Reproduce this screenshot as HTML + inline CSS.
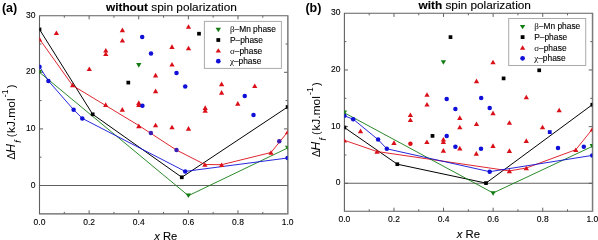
<!DOCTYPE html>
<html><head><meta charset="utf-8"><style>
html,body{margin:0;padding:0;background:#fff;width:598px;height:240px;overflow:hidden}
svg{display:block;will-change:transform}
text{font-family:"Liberation Sans",sans-serif;fill:#000}
.t{font-size:8.5px;stroke:#000;stroke-width:0.12px}
.lg{font-size:8.4px;stroke:#000;stroke-width:0.12px}
.ti{font-size:11.2px;stroke:#000;stroke-width:0.12px}
.pl{font-size:12.5px;font-weight:bold}
.xl{font-size:11px;stroke:#000;stroke-width:0.1px}
.yl{font-size:11px}
</style></head><body>
<svg width="598" height="240" viewBox="0 0 598 240">
<path d="M287.60 15.7H39.5V213.9H287.60" fill="none" stroke="#606060" stroke-width="1.1"/>
<line x1="287.85" y1="15.149999999999999" x2="287.85" y2="214.45000000000002" stroke="#7a7a7a" stroke-width="1.5"/>
<line x1="39.5" y1="185.5" x2="287.6" y2="185.5" stroke="#606060" stroke-width="1.1"/>
<line x1="64.31" y1="213.9" x2="64.31" y2="211.9" stroke="#606060" stroke-width="1"/>
<line x1="64.31" y1="15.7" x2="64.31" y2="17.7" stroke="#606060" stroke-width="1"/>
<line x1="89.12" y1="213.9" x2="89.12" y2="210.3" stroke="#606060" stroke-width="1"/>
<line x1="89.12" y1="15.7" x2="89.12" y2="19.3" stroke="#606060" stroke-width="1"/>
<line x1="113.93" y1="213.9" x2="113.93" y2="211.9" stroke="#606060" stroke-width="1"/>
<line x1="113.93" y1="15.7" x2="113.93" y2="17.7" stroke="#606060" stroke-width="1"/>
<line x1="138.74" y1="213.9" x2="138.74" y2="210.3" stroke="#606060" stroke-width="1"/>
<line x1="138.74" y1="15.7" x2="138.74" y2="19.3" stroke="#606060" stroke-width="1"/>
<line x1="163.55" y1="213.9" x2="163.55" y2="211.9" stroke="#606060" stroke-width="1"/>
<line x1="163.55" y1="15.7" x2="163.55" y2="17.7" stroke="#606060" stroke-width="1"/>
<line x1="188.36" y1="213.9" x2="188.36" y2="210.3" stroke="#606060" stroke-width="1"/>
<line x1="188.36" y1="15.7" x2="188.36" y2="19.3" stroke="#606060" stroke-width="1"/>
<line x1="213.17" y1="213.9" x2="213.17" y2="211.9" stroke="#606060" stroke-width="1"/>
<line x1="213.17" y1="15.7" x2="213.17" y2="17.7" stroke="#606060" stroke-width="1"/>
<line x1="237.98" y1="213.9" x2="237.98" y2="210.3" stroke="#606060" stroke-width="1"/>
<line x1="237.98" y1="15.7" x2="237.98" y2="19.3" stroke="#606060" stroke-width="1"/>
<line x1="262.79" y1="213.9" x2="262.79" y2="211.9" stroke="#606060" stroke-width="1"/>
<line x1="262.79" y1="15.7" x2="262.79" y2="17.7" stroke="#606060" stroke-width="1"/>
<line x1="39.5" y1="185.50" x2="43.1" y2="185.50" stroke="#606060" stroke-width="1"/>
<line x1="287.6" y1="185.50" x2="284.0" y2="185.50" stroke="#606060" stroke-width="1"/>
<line x1="39.5" y1="157.20" x2="41.5" y2="157.20" stroke="#606060" stroke-width="1"/>
<line x1="287.6" y1="157.20" x2="285.6" y2="157.20" stroke="#606060" stroke-width="1"/>
<line x1="39.5" y1="128.90" x2="43.1" y2="128.90" stroke="#606060" stroke-width="1"/>
<line x1="287.6" y1="128.90" x2="284.0" y2="128.90" stroke="#606060" stroke-width="1"/>
<line x1="39.5" y1="100.60" x2="41.5" y2="100.60" stroke="#606060" stroke-width="1"/>
<line x1="287.6" y1="100.60" x2="285.6" y2="100.60" stroke="#606060" stroke-width="1"/>
<line x1="39.5" y1="72.30" x2="43.1" y2="72.30" stroke="#606060" stroke-width="1"/>
<line x1="287.6" y1="72.30" x2="284.0" y2="72.30" stroke="#606060" stroke-width="1"/>
<line x1="39.5" y1="44.00" x2="41.5" y2="44.00" stroke="#606060" stroke-width="1"/>
<line x1="287.6" y1="44.00" x2="285.6" y2="44.00" stroke="#606060" stroke-width="1"/>
<text x="35.50" y="187.50" text-anchor="end" class="t">0</text>
<text x="35.50" y="130.90" text-anchor="end" class="t">10</text>
<text x="35.50" y="74.30" text-anchor="end" class="t">20</text>
<text x="35.50" y="17.70" text-anchor="end" class="t">30</text>
<text x="39.50" y="224.70" text-anchor="middle" class="t">0.0</text>
<text x="89.12" y="224.70" text-anchor="middle" class="t">0.2</text>
<text x="138.74" y="224.70" text-anchor="middle" class="t">0.4</text>
<text x="188.36" y="224.70" text-anchor="middle" class="t">0.6</text>
<text x="237.98" y="224.70" text-anchor="middle" class="t">0.8</text>
<text x="287.60" y="224.70" text-anchor="middle" class="t">1.0</text>
<clipPath id="cl"><rect x="39.5" y="15.7" width="248.10" height="198.20"/></clipPath>
<g clip-path="url(#cl)">
<polyline points="39.50,29.40 92.70,114.30 181.80,177.30 287.60,107.00" fill="none" stroke="#000" stroke-width="1.0" stroke-linejoin="miter"/>
<polyline points="39.50,39.10 72.60,85.50 138.80,125.50 176.50,150.10 204.90,164.50 221.60,164.70 271.00,152.50 287.60,132.00" fill="none" stroke="#da1019" stroke-width="0.9" stroke-linejoin="miter"/>
<polyline points="39.50,72.30 188.40,195.70 287.60,148.00" fill="none" stroke="#137d13" stroke-width="0.9" stroke-linejoin="miter"/>
<polyline points="39.50,66.70 48.40,80.90 73.60,109.70 82.30,118.40 185.20,171.40 287.60,158.00" fill="none" stroke="#1010d8" stroke-width="0.9" stroke-linejoin="miter"/>
<path d="M53.75 35.00L59.05 35.00L56.40 30.40Z" fill="#da1019"/>
<path d="M119.75 32.20L125.05 32.20L122.40 27.60Z" fill="#da1019"/>
<path d="M119.75 42.60L125.05 42.60L122.40 38.00Z" fill="#da1019"/>
<path d="M103.15 52.60L108.45 52.60L105.80 48.00Z" fill="#da1019"/>
<path d="M103.15 56.00L108.45 56.00L105.80 51.40Z" fill="#da1019"/>
<path d="M86.65 71.00L91.95 71.00L89.30 66.40Z" fill="#da1019"/>
<path d="M69.95 87.30L75.25 87.30L72.60 82.70Z" fill="#da1019"/>
<path d="M103.05 106.90L108.35 106.90L105.70 102.30Z" fill="#da1019"/>
<path d="M119.65 111.70L124.95 111.70L122.30 107.10Z" fill="#da1019"/>
<path d="M136.15 104.90L141.45 104.90L138.80 100.30Z" fill="#da1019"/>
<path d="M136.15 106.90L141.45 106.90L138.80 102.30Z" fill="#da1019"/>
<path d="M152.95 93.20L158.25 93.20L155.60 88.60Z" fill="#da1019"/>
<path d="M169.35 48.90L174.65 48.90L172.00 44.30Z" fill="#da1019"/>
<path d="M185.85 28.80L191.15 28.80L188.50 24.20Z" fill="#da1019"/>
<path d="M185.85 50.30L191.15 50.30L188.50 45.70Z" fill="#da1019"/>
<path d="M169.35 66.50L174.65 66.50L172.00 61.90Z" fill="#da1019"/>
<path d="M152.95 77.40L158.25 77.40L155.60 72.80Z" fill="#da1019"/>
<path d="M218.95 86.20L224.25 86.20L221.60 81.60Z" fill="#da1019"/>
<path d="M218.95 94.70L224.25 94.70L221.60 90.10Z" fill="#da1019"/>
<path d="M202.55 109.90L207.85 109.90L205.20 105.30Z" fill="#da1019"/>
<path d="M202.55 112.70L207.85 112.70L205.20 108.10Z" fill="#da1019"/>
<path d="M235.15 105.70L240.45 105.70L237.80 101.10Z" fill="#da1019"/>
<path d="M152.95 127.30L158.25 127.30L155.60 122.70Z" fill="#da1019"/>
<path d="M169.35 129.30L174.65 129.30L172.00 124.70Z" fill="#da1019"/>
<path d="M185.85 130.70L191.15 130.70L188.50 126.10Z" fill="#da1019"/>
<path d="M136.15 128.20L141.45 128.20L138.80 123.60Z" fill="#da1019"/>
<path d="M202.25 166.80L207.55 166.80L204.90 162.20Z" fill="#da1019"/>
<path d="M218.95 167.00L224.25 167.00L221.60 162.40Z" fill="#da1019"/>
<path d="M252.10 88.05L257.40 88.05L254.75 83.45Z" fill="#da1019"/>
<path d="M268.35 154.80L273.65 154.80L271.00 150.20Z" fill="#da1019"/>
<path d="M284.95 134.30L290.25 134.30L287.60 129.70Z" fill="#da1019"/>
<path d="M36.85 41.40L42.15 41.40L39.50 36.80Z" fill="#da1019"/>
<circle cx="39.50" cy="66.70" r="2.25" fill="#1010d8"/>
<circle cx="48.40" cy="80.90" r="2.25" fill="#1010d8"/>
<circle cx="73.60" cy="109.70" r="2.25" fill="#1010d8"/>
<circle cx="82.30" cy="118.40" r="2.25" fill="#1010d8"/>
<circle cx="142.20" cy="36.90" r="2.25" fill="#1010d8"/>
<circle cx="151.00" cy="53.40" r="2.25" fill="#1010d8"/>
<circle cx="176.50" cy="73.10" r="2.25" fill="#1010d8"/>
<circle cx="185.20" cy="86.50" r="2.25" fill="#1010d8"/>
<circle cx="142.40" cy="105.70" r="2.25" fill="#1010d8"/>
<circle cx="185.20" cy="171.40" r="2.25" fill="#1010d8"/>
<circle cx="244.75" cy="96.00" r="2.25" fill="#1010d8"/>
<circle cx="253.50" cy="115.00" r="2.25" fill="#1010d8"/>
<circle cx="287.60" cy="158.00" r="2.25" fill="#1010d8"/>
<rect x="37.65" y="27.55" width="3.7" height="3.7" fill="#000"/>
<rect x="90.85" y="112.45" width="3.7" height="3.7" fill="#000"/>
<rect x="126.45" y="80.75" width="3.7" height="3.7" fill="#000"/>
<rect x="197.15" y="31.85" width="3.7" height="3.7" fill="#000"/>
<rect x="179.95" y="175.45" width="3.7" height="3.7" fill="#000"/>
<rect x="285.75" y="105.15" width="3.7" height="3.7" fill="#000"/>
<path d="M36.85 70.00L42.15 70.00L39.50 74.60Z" fill="#137d13"/>
<path d="M136.15 63.10L141.45 63.10L138.80 67.70Z" fill="#137d13"/>
<path d="M185.75 193.40L191.05 193.40L188.40 198.00Z" fill="#137d13"/>
<path d="M284.95 145.70L290.25 145.70L287.60 150.30Z" fill="#137d13"/>
</g>
<circle cx="150.90" cy="132.90" r="2.25" fill="#3a1cb4"/>
<circle cx="176.50" cy="150.00" r="2.25" fill="#3a1cb4"/>
<circle cx="279.25" cy="141.25" r="2.25" fill="#3a1cb4"/>
<rect x="204.40" y="21.40" width="77.0" height="47.0" fill="#fff" stroke="#aaa" stroke-width="1"/>
<path d="M215.60 27.80L221.00 27.80L218.30 32.20Z" fill="#137d13"/>
<rect x="216.40" y="38.10" width="3.8" height="3.8" fill="#000"/>
<path d="M215.60 52.60L221.00 52.60L218.30 48.20Z" fill="#da1019"/>
<circle cx="218.30" cy="61.20" r="2.35" fill="#1010d8"/>
<text transform="translate(229.90,32.30) scale(1.0,1)" class="lg"><tspan font-family="Liberation Serif" font-size="9px" stroke-width="0">β</tspan>–Mn phase</text>
<text transform="translate(229.90,42.80) scale(1.0,1)" class="lg">P–phase</text>
<text transform="translate(229.90,54.00) scale(1.0,1)" class="lg"><tspan font-family="Liberation Serif" font-size="9px" stroke-width="0">σ</tspan>–phase</text>
<text transform="translate(229.90,64.20) scale(1.0,1)" class="lg"><tspan font-family="Liberation Serif" font-size="9px" stroke-width="0">χ</tspan>–phase</text>
<text x="1.9" y="12.3" class="pl">(a)</text>
<text transform="translate(105.95,10.80) scale(1.058,1)" class="ti"><tspan font-weight="bold">without</tspan> spin polarization</text>
<text transform="translate(154.20,239.50) scale(1.02,1)" class="xl"><tspan font-style="italic">x</tspan> Re</text>
<g transform="translate(15.1,159.2) rotate(-90)" class="yl"><text x="-0.2" y="0" font-size="10.5px">Δ</text><text x="6.4" y="0" font-style="italic" font-size="12px">H</text><text x="16.5" y="5.6" font-style="italic" font-size="9px">f</text><text transform="translate(22.0,0) scale(1.0,1)">(</text><text transform="translate(26.3,0) scale(1.085,1)">kJ.mol</text><text x="62.0" y="-7.4" font-size="8.6px">-1</text><text x="71.0" y="0">)</text></g>
<path d="M592.30 13.3H344.4V211.3H592.30" fill="none" stroke="#606060" stroke-width="1.1"/>
<line x1="592.55" y1="12.75" x2="592.55" y2="211.85000000000002" stroke="#7a7a7a" stroke-width="1.5"/>
<line x1="344.4" y1="183.3" x2="592.3" y2="183.3" stroke="#606060" stroke-width="1.1"/>
<line x1="369.19" y1="211.3" x2="369.19" y2="209.3" stroke="#606060" stroke-width="1"/>
<line x1="369.19" y1="13.3" x2="369.19" y2="15.3" stroke="#606060" stroke-width="1"/>
<line x1="393.98" y1="211.3" x2="393.98" y2="207.70000000000002" stroke="#606060" stroke-width="1"/>
<line x1="393.98" y1="13.3" x2="393.98" y2="16.900000000000002" stroke="#606060" stroke-width="1"/>
<line x1="418.77" y1="211.3" x2="418.77" y2="209.3" stroke="#606060" stroke-width="1"/>
<line x1="418.77" y1="13.3" x2="418.77" y2="15.3" stroke="#606060" stroke-width="1"/>
<line x1="443.56" y1="211.3" x2="443.56" y2="207.70000000000002" stroke="#606060" stroke-width="1"/>
<line x1="443.56" y1="13.3" x2="443.56" y2="16.900000000000002" stroke="#606060" stroke-width="1"/>
<line x1="468.35" y1="211.3" x2="468.35" y2="209.3" stroke="#606060" stroke-width="1"/>
<line x1="468.35" y1="13.3" x2="468.35" y2="15.3" stroke="#606060" stroke-width="1"/>
<line x1="493.14" y1="211.3" x2="493.14" y2="207.70000000000002" stroke="#606060" stroke-width="1"/>
<line x1="493.14" y1="13.3" x2="493.14" y2="16.900000000000002" stroke="#606060" stroke-width="1"/>
<line x1="517.93" y1="211.3" x2="517.93" y2="209.3" stroke="#606060" stroke-width="1"/>
<line x1="517.93" y1="13.3" x2="517.93" y2="15.3" stroke="#606060" stroke-width="1"/>
<line x1="542.72" y1="211.3" x2="542.72" y2="207.70000000000002" stroke="#606060" stroke-width="1"/>
<line x1="542.72" y1="13.3" x2="542.72" y2="16.900000000000002" stroke="#606060" stroke-width="1"/>
<line x1="567.51" y1="211.3" x2="567.51" y2="209.3" stroke="#606060" stroke-width="1"/>
<line x1="567.51" y1="13.3" x2="567.51" y2="15.3" stroke="#606060" stroke-width="1"/>
<line x1="344.4" y1="183.30" x2="348.0" y2="183.30" stroke="#606060" stroke-width="1"/>
<line x1="592.3" y1="183.30" x2="588.6999999999999" y2="183.30" stroke="#606060" stroke-width="1"/>
<line x1="344.4" y1="154.97" x2="346.4" y2="154.97" stroke="#606060" stroke-width="1"/>
<line x1="592.3" y1="154.97" x2="590.3" y2="154.97" stroke="#606060" stroke-width="1"/>
<line x1="344.4" y1="126.63" x2="348.0" y2="126.63" stroke="#606060" stroke-width="1"/>
<line x1="592.3" y1="126.63" x2="588.6999999999999" y2="126.63" stroke="#606060" stroke-width="1"/>
<line x1="344.4" y1="98.30" x2="346.4" y2="98.30" stroke="#606060" stroke-width="1"/>
<line x1="592.3" y1="98.30" x2="590.3" y2="98.30" stroke="#606060" stroke-width="1"/>
<line x1="344.4" y1="69.97" x2="348.0" y2="69.97" stroke="#606060" stroke-width="1"/>
<line x1="592.3" y1="69.97" x2="588.6999999999999" y2="69.97" stroke="#606060" stroke-width="1"/>
<line x1="344.4" y1="41.63" x2="346.4" y2="41.63" stroke="#606060" stroke-width="1"/>
<line x1="592.3" y1="41.63" x2="590.3" y2="41.63" stroke="#606060" stroke-width="1"/>
<text x="340.40" y="185.30" text-anchor="end" class="t">0</text>
<text x="340.40" y="128.63" text-anchor="end" class="t">10</text>
<text x="340.40" y="71.97" text-anchor="end" class="t">20</text>
<text x="340.40" y="15.30" text-anchor="end" class="t">30</text>
<text x="344.40" y="222.10" text-anchor="middle" class="t">0.0</text>
<text x="393.98" y="222.10" text-anchor="middle" class="t">0.2</text>
<text x="443.56" y="222.10" text-anchor="middle" class="t">0.4</text>
<text x="493.14" y="222.10" text-anchor="middle" class="t">0.6</text>
<text x="542.72" y="222.10" text-anchor="middle" class="t">0.8</text>
<text x="592.30" y="222.10" text-anchor="middle" class="t">1.0</text>
<clipPath id="cr"><rect x="344.4" y="13.3" width="247.90" height="198.00"/></clipPath>
<g clip-path="url(#cr)">
<polyline points="344.40,127.50 397.30,164.20 486.00,183.10 592.30,104.70" fill="none" stroke="#000" stroke-width="1.0" stroke-linejoin="miter"/>
<polyline points="344.40,140.30 377.00,151.50 509.40,170.90 526.30,168.00 575.80,149.70 592.30,129.20" fill="none" stroke="#da1019" stroke-width="0.9" stroke-linejoin="miter"/>
<polyline points="344.40,112.80 493.10,193.00 592.30,146.40" fill="none" stroke="#137d13" stroke-width="0.9" stroke-linejoin="miter"/>
<polyline points="344.40,115.80 353.20,119.20 378.10,139.60 386.80,148.80 489.70,171.70 592.30,155.40" fill="none" stroke="#1010d8" stroke-width="0.9" stroke-linejoin="miter"/>
<path d="M357.85 133.20L363.15 133.20L360.50 128.60Z" fill="#da1019"/>
<path d="M341.75 142.60L347.05 142.60L344.40 138.00Z" fill="#da1019"/>
<path d="M374.35 153.80L379.65 153.80L377.00 149.20Z" fill="#da1019"/>
<path d="M407.75 117.10L413.05 117.10L410.40 112.50Z" fill="#da1019"/>
<path d="M407.75 122.10L413.05 122.10L410.40 117.50Z" fill="#da1019"/>
<path d="M424.35 96.80L429.65 96.80L427.00 92.20Z" fill="#da1019"/>
<path d="M424.35 106.50L429.65 106.50L427.00 101.90Z" fill="#da1019"/>
<path d="M424.25 144.00L429.55 144.00L426.90 139.40Z" fill="#da1019"/>
<path d="M391.35 144.90L396.65 144.90L394.00 140.30Z" fill="#da1019"/>
<path d="M440.75 141.50L446.05 141.50L443.40 136.90Z" fill="#da1019"/>
<path d="M440.75 144.00L446.05 144.00L443.40 139.40Z" fill="#da1019"/>
<path d="M440.75 152.70L446.05 152.70L443.40 148.10Z" fill="#da1019"/>
<path d="M457.15 119.90L462.45 119.90L459.80 115.30Z" fill="#da1019"/>
<path d="M457.15 129.30L462.45 129.30L459.80 124.70Z" fill="#da1019"/>
<path d="M457.15 150.40L462.45 150.40L459.80 145.80Z" fill="#da1019"/>
<path d="M473.85 83.20L479.15 83.20L476.50 78.60Z" fill="#da1019"/>
<path d="M473.85 126.00L479.15 126.00L476.50 121.40Z" fill="#da1019"/>
<path d="M473.65 155.70L478.95 155.70L476.30 151.10Z" fill="#da1019"/>
<path d="M490.35 64.30L495.65 64.30L493.00 59.70Z" fill="#da1019"/>
<path d="M490.35 115.20L495.65 115.20L493.00 110.60Z" fill="#da1019"/>
<path d="M490.35 147.90L495.65 147.90L493.00 143.30Z" fill="#da1019"/>
<path d="M506.75 124.80L512.05 124.80L509.40 120.20Z" fill="#da1019"/>
<path d="M506.75 152.90L512.05 152.90L509.40 148.30Z" fill="#da1019"/>
<path d="M506.75 173.20L512.05 173.20L509.40 168.60Z" fill="#da1019"/>
<path d="M523.65 99.30L528.95 99.30L526.30 94.70Z" fill="#da1019"/>
<path d="M523.65 142.90L528.95 142.90L526.30 138.30Z" fill="#da1019"/>
<path d="M523.65 170.30L528.95 170.30L526.30 165.70Z" fill="#da1019"/>
<path d="M539.85 129.30L545.15 129.30L542.50 124.70Z" fill="#da1019"/>
<path d="M556.55 112.30L561.85 112.30L559.20 107.70Z" fill="#da1019"/>
<path d="M573.15 152.00L578.45 152.00L575.80 147.40Z" fill="#da1019"/>
<path d="M589.65 131.50L594.95 131.50L592.30 126.90Z" fill="#da1019"/>
<circle cx="344.40" cy="115.80" r="2.25" fill="#1010d8"/>
<circle cx="353.20" cy="119.20" r="2.25" fill="#1010d8"/>
<circle cx="378.10" cy="139.60" r="2.25" fill="#1010d8"/>
<circle cx="386.80" cy="148.80" r="2.25" fill="#1010d8"/>
<circle cx="446.70" cy="98.90" r="2.25" fill="#1010d8"/>
<circle cx="455.40" cy="108.90" r="2.25" fill="#1010d8"/>
<circle cx="481.20" cy="97.90" r="2.25" fill="#1010d8"/>
<circle cx="489.70" cy="107.90" r="2.25" fill="#1010d8"/>
<circle cx="446.70" cy="135.90" r="2.25" fill="#1010d8"/>
<circle cx="455.40" cy="146.80" r="2.25" fill="#1010d8"/>
<circle cx="481.00" cy="148.80" r="2.25" fill="#1010d8"/>
<circle cx="489.70" cy="171.70" r="2.25" fill="#1010d8"/>
<circle cx="558.00" cy="148.00" r="2.25" fill="#1010d8"/>
<circle cx="583.80" cy="146.70" r="2.25" fill="#1010d8"/>
<circle cx="592.30" cy="155.40" r="2.25" fill="#1010d8"/>
<rect x="342.55" y="125.65" width="3.7" height="3.7" fill="#000"/>
<rect x="395.45" y="162.35" width="3.7" height="3.7" fill="#000"/>
<rect x="430.65" y="134.05" width="3.7" height="3.7" fill="#000"/>
<rect x="448.65" y="35.25" width="3.7" height="3.7" fill="#000"/>
<rect x="501.75" y="76.55" width="3.7" height="3.7" fill="#000"/>
<rect x="537.35" y="68.45" width="3.7" height="3.7" fill="#000"/>
<rect x="484.15" y="181.25" width="3.7" height="3.7" fill="#000"/>
<rect x="590.45" y="102.85" width="3.7" height="3.7" fill="#000"/>
<path d="M341.75 110.50L347.05 110.50L344.40 115.10Z" fill="#137d13"/>
<path d="M440.75 60.20L446.05 60.20L443.40 64.80Z" fill="#137d13"/>
<path d="M490.45 191.20L495.75 191.20L493.10 195.80Z" fill="#137d13"/>
<path d="M589.65 144.10L594.95 144.10L592.30 148.70Z" fill="#137d13"/>
</g>
<circle cx="410.40" cy="143.80" r="2.25" fill="#da1019"/>
<rect x="547.85" y="130.20" width="3.8" height="3.8" fill="#1010d8"/>
<rect x="508.70" y="18.50" width="77.0" height="47.0" fill="#fff" stroke="#aaa" stroke-width="1"/>
<path d="M519.90 24.90L525.30 24.90L522.60 29.30Z" fill="#137d13"/>
<rect x="520.70" y="35.20" width="3.8" height="3.8" fill="#000"/>
<path d="M519.90 49.70L525.30 49.70L522.60 45.30Z" fill="#da1019"/>
<circle cx="522.60" cy="58.30" r="2.35" fill="#1010d8"/>
<text transform="translate(534.20,29.40) scale(1.0,1)" class="lg"><tspan font-family="Liberation Serif" font-size="9px" stroke-width="0">β</tspan>–Mn phase</text>
<text transform="translate(534.20,39.90) scale(1.0,1)" class="lg">P–phase</text>
<text transform="translate(534.20,51.10) scale(1.0,1)" class="lg"><tspan font-family="Liberation Serif" font-size="9px" stroke-width="0">σ</tspan>–phase</text>
<text transform="translate(534.20,61.30) scale(1.0,1)" class="lg"><tspan font-family="Liberation Serif" font-size="9px" stroke-width="0">χ</tspan>–phase</text>
<text x="305.4" y="12.3" class="pl">(b)</text>
<text transform="translate(418.45,8.50) scale(1.058,1)" class="ti"><tspan font-weight="bold">with</tspan> spin polarization</text>
<text transform="translate(456.80,237.50) scale(1.03,1)" class="xl"><tspan font-style="italic">x</tspan> Re</text>
<g transform="translate(320.0,156.9) rotate(-90)" class="yl"><text x="-0.2" y="0" font-size="10.5px">Δ</text><text x="6.4" y="0" font-style="italic" font-size="12px">H</text><text x="16.5" y="5.6" font-style="italic" font-size="9px">f</text><text transform="translate(22.0,0) scale(1.0,1)">(</text><text transform="translate(26.3,0) scale(1.085,1)">kJ.mol</text><text x="62.0" y="-7.4" font-size="8.6px">-1</text><text x="71.0" y="0">)</text></g>
</svg>
</body></html>
